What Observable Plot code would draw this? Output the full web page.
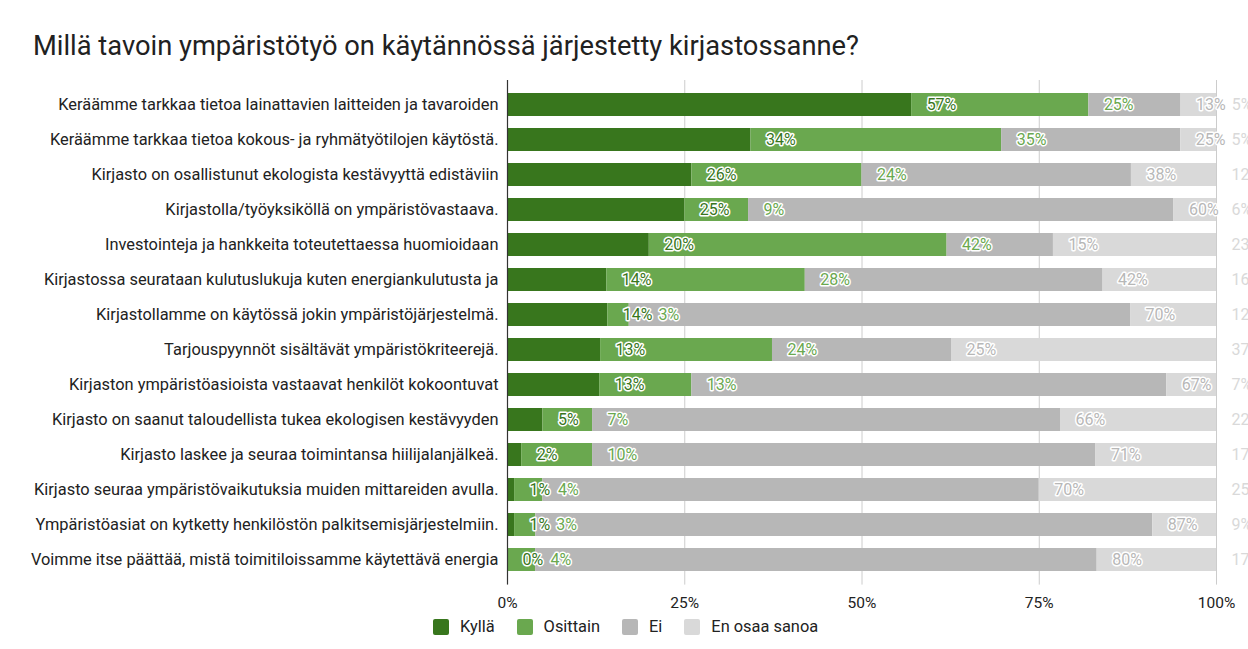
<!DOCTYPE html>
<html>
<head>
<meta charset="utf-8">
<script src="https://cdn.jsdelivr.net/npm/d3@7"></script>
<script src="https://cdn.jsdelivr.net/npm/@observablehq/plot@0.6"></script>
<style>
  html, body { margin: 0; padding: 0; background: #fff; }
  body { width: 1248px; height: 649px; position: relative; overflow: hidden; font-family: Roboto, "Noto Sans", sans-serif; }
  #title { position: absolute; left: 33px; top: 30px; font-size: 27.3px; line-height: 32px; color: #212121; white-space: nowrap; }
  #chart { position: absolute; left: 0; top: 80px; }
  #legend { position: absolute; top: 617px; left: 433px; display: flex; align-items: center; font-size: 16.4px; line-height: 20px; color: #222; }
  #legend .item { display: flex; align-items: center; }
  #legend .sw { width: 16px; height: 16px; border-radius: 2px; margin-right: 11px; }
</style>
</head>
<body>
<div id="title">Millä tavoin ympäristötyö on käytännössä järjestetty kirjastossanne?</div>
<div id="chart"></div>
<div id="legend"></div>
<script>
const categories = [
  "Keräämme tarkkaa tietoa lainattavien laitteiden ja tavaroiden",
  "Keräämme tarkkaa tietoa kokous- ja ryhmätyötilojen käytöstä.",
  "Kirjasto on osallistunut ekologista kestävyyttä edistäviin",
  "Kirjastolla/työyksiköllä on ympäristövastaava.",
  "Investointeja ja hankkeita toteutettaessa huomioidaan",
  "Kirjastossa seurataan kulutuslukuja kuten energiankulutusta ja",
  "Kirjastollamme on käytössä jokin ympäristöjärjestelmä.",
  "Tarjouspyynnöt sisältävät ympäristökriteerejä.",
  "Kirjaston ympäristöasioista vastaavat henkilöt kokoontuvat",
  "Kirjasto on saanut taloudellista tukea ekologisen kestävyyden",
  "Kirjasto laskee ja seuraa toimintansa hiilijalanjälkeä.",
  "Kirjasto seuraa ympäristövaikutuksia muiden mittareiden avulla.",
  "Ympäristöasiat on kytketty henkilöstön palkitsemisjärjestelmiin.",
  "Voimme itse päättää, mistä toimitiloissamme käytettävä energia"
];
const seriesNames = ["Kyllä", "Osittain", "Ei", "En osaa sanoa"];
const seriesColors = ["#38761d", "#6aa84f", "#b7b7b7", "#d9d9d9"];
const kylla    = [57, 34, 26, 25, 20, 14, 14, 13, 13, 5, 2, 1, 1, 0];
const osittain = [25, 35, 24, 9, 42, 28, 3, 24, 13, 7, 10, 4, 3, 4];
const ei       = [13, 25, 38, 60, 15, 42, 70, 25, 67, 66, 71, 70, 87, 80];
const eos      = [5, 5, 12, 6, 23, 16, 12, 37, 7, 22, 17, 25, 9, 17];
const xTicks = [0, 0.25, 0.5, 0.75, 1];

const W = 1248, ML = 507, MR = 32;
const fontFamily = "Roboto, 'Noto Sans', sans-serif";
const labelSize = 16;
const labelOffset = 15;   // gap after the segment end
const labelGap = 6;       // minimum gap between neighbouring labels

const seriesValues = [kylla, osittain, ei, eos];

// x scale identical to the plot's, used to keep labels from colliding
const xs = d3.scaleLinear().domain([0, 1]).range([ML, W - MR]);
const ctx = document.createElement("canvas").getContext("2d");
ctx.font = `${labelSize}px Roboto`;

const data = [];
const labels = [];
categories.forEach((c, i) => {
  const total = d3.sum(seriesValues, s => s[i]);
  let cum = 0;
  let prevEnd = -Infinity;
  seriesNames.forEach((s, j) => {
    const v = seriesValues[j][i];
    data.push({category: c, series: s, value: v});
    cum += v / total;
    const text = v + "%";
    const start = Math.max(xs(cum) + labelOffset, prevEnd + labelGap);
    prevEnd = start + ctx.measureText(text).width;
    labels.push({category: c, series: s, text, x: xs.invert(start)});
  });
});

const chart = Plot.plot({
  width: W,
  height: 530,
  marginLeft: ML,
  marginRight: MR,
  marginTop: 0,
  marginBottom: 25.4,
  style: {fontFamily, fontSize: "15px", color: "#222", background: "#fff"},
  x: {domain: [0, 1], ticks: xTicks, tickFormat: d => Math.round(d * 100) + "%"},
  y: {domain: categories, padding: 0.345, label: null},
  color: {domain: seriesNames, range: seriesColors},
  marks: [
    Plot.gridX(xTicks, {stroke: "#cccccc", strokeOpacity: 1, strokeWidth: 1}),
    Plot.barX(data, Plot.stackX({x: "value", y: "category", z: "series", offset: "normalize", order: null, fill: "series"})),
    Plot.ruleX([0], {stroke: "#333", strokeWidth: 1.2}),
    Plot.text(labels, {
      x: "x",
      y: "category",
      text: "text",
      fill: "series",
      stroke: "white",
      strokeWidth: 3,
      paintOrder: "stroke",
      textAnchor: "start",
      fontSize: labelSize
    }),
    Plot.axisX({ticks: xTicks, tickFormat: d => Math.round(d * 100) + "%", tickSize: 0, tickPadding: 12, label: null, fontSize: 15.5, fill: "#222"}),
    Plot.axisY({tickSize: 0, tickPadding: 9, label: null, fontSize: 16.4, fill: "#222"})
  ]
});
document.getElementById("chart").appendChild(chart);

const legend = document.getElementById("legend");
seriesNames.forEach((s, i) => {
  const item = document.createElement("div");
  item.className = "item";
  if (i > 0) item.style.marginLeft = "22px";
  const sw = document.createElement("div");
  sw.className = "sw";
  sw.style.background = seriesColors[i];
  const t = document.createElement("span");
  t.textContent = s;
  item.appendChild(sw);
  item.appendChild(t);
  legend.appendChild(item);
});
</script>
</body>
</html>
